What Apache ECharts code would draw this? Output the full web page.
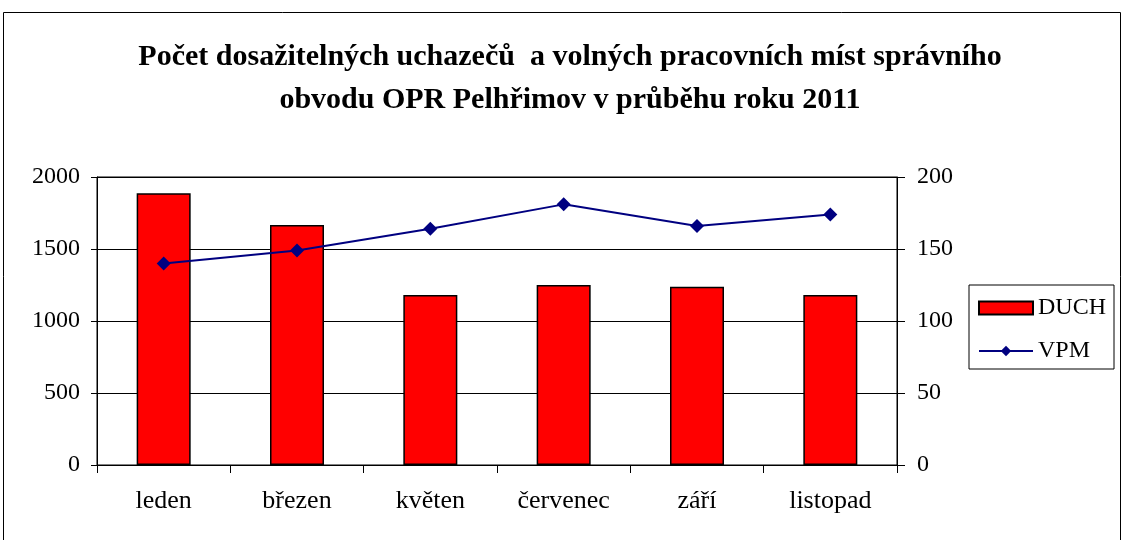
<!DOCTYPE html>
<html>
<head>
<meta charset="utf-8">
<script src="https://cdn.jsdelivr.net/npm/echarts@6/dist/echarts.min.js"></script>
<style>
    html, body { margin: 0; padding: 0; background: #fff; }
    #chart { width: 1124px; height: 540px; }
</style>
</head>
<body>
<div id="chart"></div>
<script>
    // data
    var months = ['leden', 'březen', 'květen', 'červenec', 'září', 'listopad'];
    var duch = [1887, 1667, 1180, 1250, 1238, 1180];
    var vpm = [140, 149, 164, 181, 166, 174];

    var serif = '"Liberation Serif", "DejaVu Serif", serif';
    var plain = function (v) { return String(v); }; // no thousands separator

    var chart = echarts.init(document.getElementById('chart'));
    chart.setOption({
        animation: false,
        backgroundColor: '#fff',
        textStyle: {fontFamily: serif},
        graphic: [{
            type: 'rect',
            shape: {x: 3.5, y: 12.5, width: 1117, height: 540},
            style: {fill: 'none', stroke: '#000', lineWidth: 1}
        }],
        title: {
            text: 'Počet dosažitelných uchazečů  a volných pracovních míst správního\nobvodu OPR Pelhřimov v průběhu roku 2011',
            left: 565,
            top: 31,
            textAlign: 'center',
            textStyle: {
                fontFamily: serif,
                fontWeight: 'bold',
                fontSize: 30,
                lineHeight: 43,
                color: '#000'
            }
        },
        legend: {
            orient: 'vertical',
            left: 969,
            top: 285,
            padding: [11, 8, 6, 9],
            itemGap: 19,
            itemWidth: 54,
            itemHeight: 13,
            borderColor: '#000',
            borderWidth: 1,
            textStyle: {fontFamily: serif, fontSize: 24, color: '#000'},
            data: [
                {name: 'DUCH', icon: 'rect'},
                {name: 'VPM'}
            ]
        },
        grid: {
            left: 97,
            right: 227,
            top: 177,
            height: 288,
            show: true,
            borderColor: '#000',
            borderWidth: 1
        },
        xAxis: {
            type: 'category',
            data: months,
            axisLine: {lineStyle: {color: '#000', width: 1}},
            axisTick: {show: true, length: 8, lineStyle: {color: '#000'}},
            axisLabel: {color: '#000', fontFamily: serif, fontSize: 26, margin: 23}
        },
        yAxis: [{
            type: 'value',
            min: 0,
            max: 2000,
            interval: 500,
            axisLine: {show: true, lineStyle: {color: '#000'}},
            axisTick: {show: true, length: 6, lineStyle: {color: '#000'}},
            axisLabel: {color: '#000', fontFamily: serif, fontSize: 24, margin: 17, formatter: plain},
            splitLine: {lineStyle: {color: '#000', width: 1}}
        }, {
            type: 'value',
            min: 0,
            max: 200,
            interval: 50,
            position: 'right',
            axisLine: {show: true, lineStyle: {color: '#000'}},
            axisTick: {show: true, length: 8, lineStyle: {color: '#000'}},
            axisLabel: {color: '#000', fontFamily: serif, fontSize: 24, margin: 20, formatter: plain},
            splitLine: {show: false}
        }],
        series: [{
            name: 'DUCH',
            type: 'bar',
            data: duch,
            barWidth: 54,
            itemStyle: {color: '#ff0000', borderColor: '#000', borderWidth: 1.5}
        }, {
            name: 'VPM',
            type: 'line',
            yAxisIndex: 1,
            data: vpm,
            symbol: 'diamond',
            symbolSize: 14,
            itemStyle: {color: '#000080'},
            lineStyle: {color: '#000080', width: 2}
        }]
    });
</script>
</body>
</html>
